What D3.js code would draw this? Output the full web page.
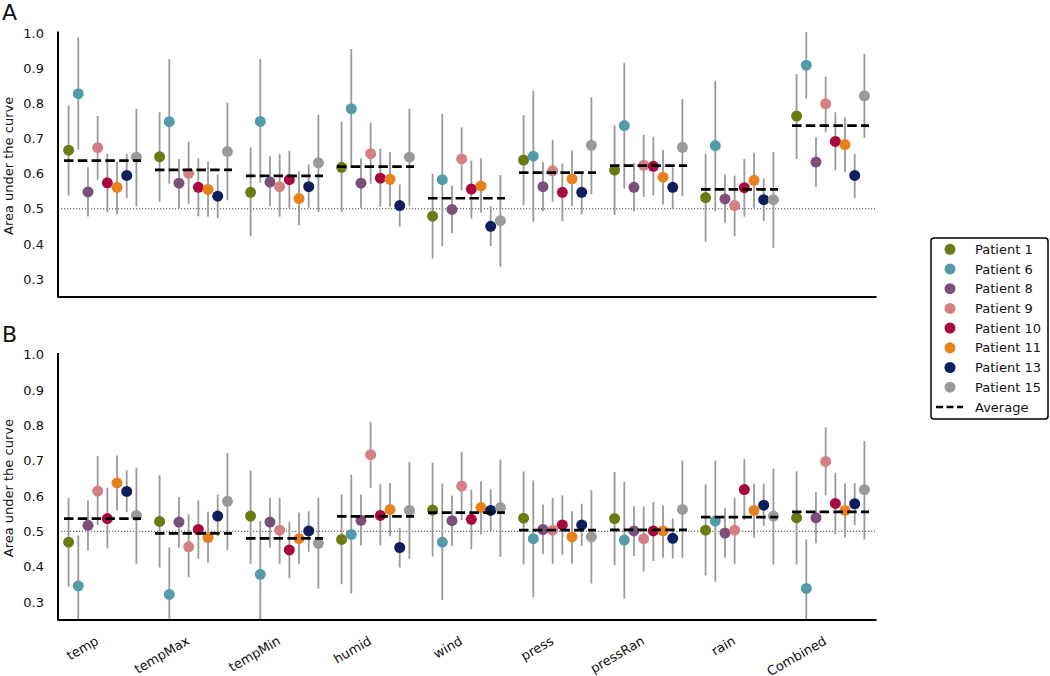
<!DOCTYPE html>
<html>
<head>
<meta charset="utf-8">
<script src="https://cdn.jsdelivr.net/npm/d3@7/dist/d3.min.js"></script>
<style>
  body { margin: 0; background: #fff; }
  text { font-family: "DejaVu Sans", sans-serif; fill: #111; }
</style>
</head>
<body>
<div class="container"></div>
<script>
//Categories, patients and colours
var categories = ["temp", "tempMax", "tempMin", "humid", "wind", "press", "pressRan", "rain", "Combined"];
var patients = ["Patient 1", "Patient 6", "Patient 8", "Patient 9", "Patient 10", "Patient 11", "Patient 13", "Patient 15"];
var pcolors = ["#6c7a12", "#539ba8", "#7c4f79", "#d48080", "#a8083c", "#e8811c", "#0d1f5c", "#9a9a9a"];
var yTicks = [0.3, 0.4, 0.5, 0.6, 0.7, 0.8, 0.9, 1.0];

//Panel A: AUC per category (rows) and patient (columns), with interval ends
var aucA = [
  [0.667, 0.828, 0.548, 0.674, 0.574, 0.561, 0.595, 0.647],
  [0.648, 0.748, 0.573, 0.601, 0.561, 0.555, 0.536, 0.663],
  [0.547, 0.749, 0.576, 0.563, 0.583, 0.529, 0.563, 0.631],
  [0.618, 0.785, 0.573, 0.657, 0.587, 0.584, 0.509, 0.647],
  [0.479, 0.583, 0.498, 0.642, 0.556, 0.565, 0.450, 0.466],
  [0.639, 0.650, 0.563, 0.608, 0.547, 0.585, 0.547, 0.681],
  [0.610, 0.737, 0.561, 0.624, 0.621, 0.590, 0.561, 0.675],
  [0.532, 0.680, 0.528, 0.509, 0.560, 0.581, 0.526, 0.526],
  [0.764, 0.909, 0.633, 0.799, 0.692, 0.683, 0.595, 0.822]
];
var hiA = [
  [0.794, 0.988, 0.618, 0.764, 0.657, 0.634, 0.657, 0.785],
  [0.775, 0.927, 0.642, 0.691, 0.644, 0.634, 0.598, 0.802],
  [0.675, 0.927, 0.650, 0.655, 0.666, 0.607, 0.626, 0.768],
  [0.748, 0.955, 0.643, 0.746, 0.671, 0.662, 0.569, 0.785],
  [0.600, 0.770, 0.566, 0.732, 0.637, 0.644, 0.507, 0.596],
  [0.767, 0.837, 0.633, 0.697, 0.629, 0.666, 0.602, 0.818],
  [0.738, 0.916, 0.631, 0.711, 0.705, 0.668, 0.618, 0.813],
  [0.657, 0.865, 0.598, 0.595, 0.642, 0.659, 0.586, 0.662],
  [0.884, 1.004, 0.704, 0.877, 0.775, 0.761, 0.656, 0.942]
];
var loA = [
  [0.538, 0.669, 0.478, 0.583, 0.490, 0.484, 0.531, 0.507],
  [0.520, 0.571, 0.500, 0.514, 0.479, 0.477, 0.474, 0.524],
  [0.422, 0.574, 0.507, 0.477, 0.503, 0.453, 0.503, 0.491],
  [0.491, 0.617, 0.503, 0.571, 0.506, 0.506, 0.449, 0.507],
  [0.358, 0.394, 0.430, 0.553, 0.472, 0.489, 0.394, 0.335],
  [0.510, 0.463, 0.493, 0.520, 0.465, 0.507, 0.484, 0.542],
  [0.482, 0.558, 0.493, 0.534, 0.538, 0.512, 0.500, 0.536],
  [0.406, 0.493, 0.460, 0.422, 0.477, 0.503, 0.465, 0.389],
  [0.642, 0.814, 0.561, 0.718, 0.610, 0.604, 0.531, 0.702]
];
var avgA = [0.637, 0.611, 0.594, 0.620, 0.530, 0.603, 0.623, 0.555, 0.737];

//Panel B
var aucB = [
  [0.469, 0.345, 0.517, 0.614, 0.536, 0.637, 0.613, 0.545],
  [0.528, 0.321, 0.526, 0.456, 0.505, 0.482, 0.543, 0.585],
  [0.543, 0.378, 0.526, 0.503, 0.447, 0.479, 0.501, 0.466],
  [0.477, 0.491, 0.531, 0.717, 0.545, 0.562, 0.454, 0.559],
  [0.560, 0.469, 0.530, 0.628, 0.534, 0.567, 0.559, 0.567],
  [0.537, 0.479, 0.505, 0.503, 0.518, 0.484, 0.518, 0.484],
  [0.536, 0.475, 0.501, 0.479, 0.501, 0.501, 0.480, 0.562],
  [0.503, 0.529, 0.495, 0.503, 0.618, 0.559, 0.574, 0.543],
  [0.538, 0.338, 0.538, 0.698, 0.579, 0.559, 0.578, 0.618]
];
var hiB = [
  [0.595, 0.488, 0.587, 0.713, 0.623, 0.715, 0.673, 0.680],
  [0.659, 0.454, 0.597, 0.548, 0.588, 0.555, 0.604, 0.722],
  [0.672, 0.529, 0.595, 0.595, 0.527, 0.553, 0.557, 0.595],
  [0.604, 0.660, 0.604, 0.810, 0.633, 0.637, 0.510, 0.696],
  [0.694, 0.635, 0.601, 0.725, 0.618, 0.642, 0.618, 0.703],
  [0.670, 0.644, 0.576, 0.595, 0.602, 0.557, 0.578, 0.616],
  [0.668, 0.640, 0.571, 0.570, 0.583, 0.573, 0.536, 0.700],
  [0.633, 0.700, 0.565, 0.595, 0.705, 0.635, 0.635, 0.678],
  [0.670, 0.477, 0.611, 0.795, 0.666, 0.635, 0.637, 0.756]
];
var loB = [
  [0.343, 0.200, 0.446, 0.518, 0.451, 0.559, 0.554, 0.408],
  [0.397, 0.190, 0.454, 0.369, 0.422, 0.411, 0.486, 0.446],
  [0.408, 0.230, 0.454, 0.408, 0.367, 0.408, 0.442, 0.338],
  [0.350, 0.324, 0.460, 0.623, 0.460, 0.486, 0.397, 0.422],
  [0.428, 0.305, 0.458, 0.531, 0.449, 0.491, 0.501, 0.427],
  [0.406, 0.312, 0.435, 0.408, 0.433, 0.409, 0.458, 0.352],
  [0.404, 0.309, 0.430, 0.386, 0.416, 0.425, 0.423, 0.425],
  [0.375, 0.357, 0.425, 0.408, 0.531, 0.482, 0.515, 0.406],
  [0.406, 0.200, 0.466, 0.602, 0.491, 0.482, 0.517, 0.477]
];
var avgB = [0.536, 0.494, 0.480, 0.542, 0.553, 0.503, 0.504, 0.540, 0.555];

//Layout
var width = 1050, height = 676;
var margin = {left: 58, right: 876};
var panels = [
  {label: "A", top: 33.3, bottom: 296.5, auc: aucA, hi: hiA, lo: loA, avg: avgA, ticks: false},
  {label: "B", top: 354.8, bottom: 619.5, auc: aucB, hi: hiB, lo: loB, avg: avgB, ticks: true}
];

var x = d3.scaleBand().domain(categories).range([57, 876]).paddingInner(0).paddingOuter(0);
var xin = d3.scalePoint().domain(patients).range([-33.9, 33.9]);
var color = d3.scaleOrdinal().domain(patients).range(pcolors);

var svg = d3.select(".container").append("svg")
    .attr("width", width)
    .attr("height", height);

panels.forEach(function(p, pi) {
  var y = d3.scaleLinear().domain([0.25, 1.0]).range([p.bottom, p.top]);
  var g = svg.append("g").attr("class", "panel" + p.label);

  g.append("clipPath").attr("id", "clip" + pi)
    .append("rect")
    .attr("x", margin.left).attr("y", y(1.02))
    .attr("width", margin.right - margin.left).attr("height", y(0.25) - y(1.02));

  //chance line
  g.append("line")
    .attr("x1", margin.left).attr("x2", 875)
    .attr("y1", y(0.5)).attr("y2", y(0.5))
    .attr("stroke", "#444").attr("stroke-width", 1)
    .attr("stroke-dasharray", "1.2,1.8");

  var rows = [];
  categories.forEach(function(c, ci) {
    patients.forEach(function(pt, k) {
      rows.push({cat: c, pat: pt, v: p.auc[ci][k], lo: p.lo[ci][k], hi: p.hi[ci][k]});
    });
  });
  var cx = function(d) { return x(d.cat) + x.bandwidth() / 2 + xin(d.pat); };

  //error bars
  g.append("g").attr("clip-path", "url(#clip" + pi + ")")
    .selectAll("line").data(rows).enter().append("line")
    .attr("x1", cx).attr("x2", cx)
    .attr("y1", function(d) { return y(d.lo); })
    .attr("y2", function(d) { return y(d.hi); })
    .attr("stroke", "#9a9a9a").attr("stroke-width", 1.8);

  //dots
  g.append("g").selectAll("circle").data(rows).enter().append("circle")
    .attr("cx", cx)
    .attr("cy", function(d) { return y(d.v); })
    .attr("r", 5.5)
    .attr("fill", function(d) { return color(d.pat); });

  //average per category
  g.append("g").selectAll("line").data(categories).enter().append("line")
    .attr("x1", function(c) { return x(c) + x.bandwidth() / 2 - 38.5; })
    .attr("x2", function(c) { return x(c) + x.bandwidth() / 2 + 38.5; })
    .attr("y1", function(c, i) { return y(p.avg[i]); })
    .attr("y2", function(c, i) { return y(p.avg[i]); })
    .attr("stroke", "#000").attr("stroke-width", 2.7)
    .attr("stroke-dasharray", "9.5,4.3");

  //axes
  var ya = g.append("g").attr("transform", "translate(" + margin.left + ",0)")
    .call(d3.axisLeft(y).tickValues(yTicks).tickSize(0).tickPadding(14).tickFormat(d3.format(".1f")));
  ya.select(".domain").remove();
  ya.selectAll("text").style("font-size", "13px").style("font-family", "DejaVu Sans").attr("fill", "#111");

  g.append("line")
    .attr("x1", margin.left).attr("x2", margin.left)
    .attr("y1", y(1.005)).attr("y2", p.bottom + 1)
    .attr("stroke", "#000").attr("stroke-width", 2);

  var xa = g.append("g").attr("transform", "translate(0," + p.bottom + ")")
    .call(d3.axisBottom(x).tickSize(0).tickSizeOuter(0));
  xa.select(".domain").attr("stroke", "#000").attr("stroke-width", 2);
  if (p.ticks) {
    xa.selectAll("text")
      .attr("x", 0).attr("y", 0).attr("dy", null)
      .attr("text-anchor", "end")
      .attr("transform", "translate(-3,24) rotate(-30)")
      .style("font-size", "13px").style("font-family", "DejaVu Sans").attr("fill", "#111");
  } else {
    xa.selectAll("text").remove();
  }

  //titles
  g.append("text")
    .attr("transform", "translate(12.5," + ((p.top + p.bottom) / 2 + 1) + ") rotate(-90)")
    .attr("text-anchor", "middle")
    .style("font-size", "13px")
    .text("Area under the curve");
  g.append("text")
    .attr("x", 2).attr("y", p.top - 13)
    .style("font-size", "22px")
    .text(p.label);
});

//Legend
var leg = svg.append("g").attr("transform", "translate(931,238)");
leg.append("rect")
  .attr("width", 117).attr("height", 181).attr("rx", 3)
  .attr("fill", "#fff").attr("stroke", "#000").attr("stroke-width", 1.5);
var items = leg.selectAll("g.item").data(patients).enter().append("g")
  .attr("class", "item")
  .attr("transform", function(d, i) { return "translate(0," + (11.3 + i * 19.7) + ")"; });
items.append("circle").attr("cx", 19).attr("r", 5.5).attr("fill", function(d) { return color(d); });
items.append("text").attr("x", 44).attr("dy", "0.36em").style("font-size", "13px").text(function(d) { return d; });
var la = leg.append("g").attr("transform", "translate(0," + (11.3 + 8 * 19.7) + ")");
la.append("line").attr("x1", 5).attr("x2", 32)
  .attr("stroke", "#000").attr("stroke-width", 2.5).attr("stroke-dasharray", "7,3.5");
la.append("text").attr("x", 44).attr("dy", "0.36em").style("font-size", "13px").text("Average");
</script>
</body>
</html>
